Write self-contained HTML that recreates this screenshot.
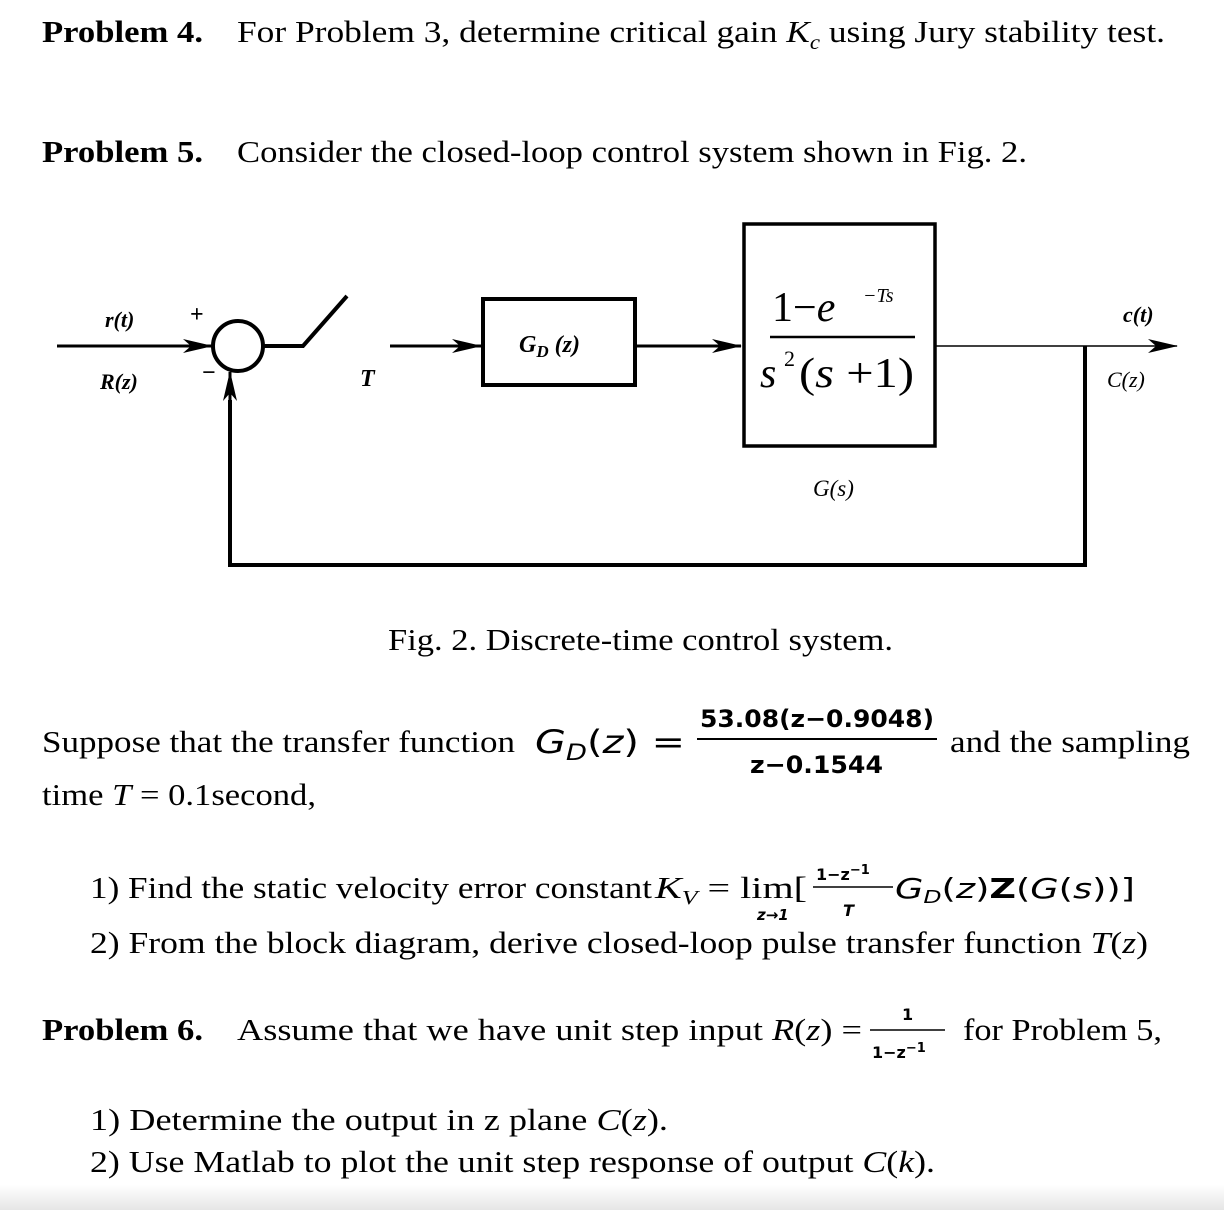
<!DOCTYPE html>
<html><head><meta charset="utf-8"><style>
body{margin:0;background:#fff;}
svg{display:block}
.s{font-family:"Liberation Serif",serif;}
.m{font-family:"DejaVu Sans","Liberation Sans",sans-serif;}
</style></head><body>
<svg width="1224" height="1210" viewBox="0 0 1224 1210" xmlns="http://www.w3.org/2000/svg">
<defs>
<marker id="a" markerWidth="30" markerHeight="14" refX="29" refY="7" orient="auto" markerUnits="userSpaceOnUse" viewBox="0 0 30 14"><path d="M0,0 L30,7 L0,14 L8,7z" fill="#000"/></marker>
<linearGradient id="g" x1="0" y1="0" x2="0" y2="1"><stop offset="0" stop-color="#fff"/><stop offset="1" stop-color="#e6e6e6"/></linearGradient>
</defs>
<rect x="0" y="1185" width="1224" height="25" fill="url(#g)"/>
<g class="s" font-size="31" fill="#000">
<text x="42" y="42" font-weight="bold" textLength="161" lengthAdjust="spacingAndGlyphs">Problem 4.</text>
<text x="237" y="42" textLength="928" lengthAdjust="spacingAndGlyphs">For Problem 3, determine critical gain <tspan font-style="italic">K</tspan><tspan font-style="italic" font-size="20" dy="7">c</tspan><tspan dy="-7"> using Jury stability test.</tspan></text>
<text x="42" y="162" font-weight="bold" textLength="161" lengthAdjust="spacingAndGlyphs">Problem 5.</text>
<text x="237" y="162" textLength="790" lengthAdjust="spacingAndGlyphs">Consider the closed-loop control system shown in Fig. 2.</text>
</g>
<g stroke="#000" fill="none">
<line x1="57" y1="346" x2="212" y2="346" stroke-width="3" marker-end="url(#a)"/>
<circle cx="238" cy="346" r="25" stroke-width="4"/>
<polyline points="263,346 303,346 347,296" stroke-width="4"/>
<line x1="390" y1="346" x2="481" y2="346" stroke-width="3" marker-end="url(#a)"/>
<rect x="483" y="299" width="152" height="86" stroke-width="4"/>
<line x1="636" y1="346" x2="741" y2="346" stroke-width="3" marker-end="url(#a)"/>
<rect x="744" y="224" width="191" height="222" stroke-width="3.5"/>
<line x1="936" y1="346" x2="1177" y2="346" stroke-width="1.5" marker-end="url(#a)"/>
<polyline points="1085,346 1085,565 230,565 230,400" stroke-width="4"/>
<line x1="230" y1="400" x2="230" y2="372" stroke-width="3" marker-end="url(#a)"/>
<line x1="770" y1="337" x2="915" y2="337" stroke-width="2.5"/>
</g>
<g class="s" fill="#000">
<text x="105" y="327" font-size="22" font-weight="bold" font-style="italic">r(t)</text>
<text x="100" y="389" font-size="22" font-weight="bold" font-style="italic">R(z)</text>
<text x="190" y="322" font-size="24" font-weight="bold">+</text>
<text x="202" y="380" font-size="24" font-weight="bold">−</text>
<text x="360" y="386" font-size="24" font-weight="bold" font-style="italic">T</text>
<text x="519" y="352" font-size="24" font-weight="bold" font-style="italic">G<tspan font-size="17" dy="5">D</tspan><tspan dy="-5"> (z)</tspan></text>
<text x="772" y="321" font-size="42">1−<tspan font-style="italic">e</tspan></text>
<text x="863" y="302" font-size="20" font-style="italic">−Ts</text>
<text x="760" y="387" font-size="42"><tspan font-style="italic">s</tspan></text>
<text x="784" y="366" font-size="22">2</text>
<text x="799" y="387" font-size="42" textLength="115" lengthAdjust="spacingAndGlyphs">(<tspan font-style="italic">s</tspan> +1)</text>
<text x="1123" y="322" font-size="22" font-weight="bold" font-style="italic">c(t)</text>
<text x="1107" y="387" font-size="22" font-style="italic">C(z)</text>
<text x="813" y="496" font-size="23" font-style="italic">G(s)</text>
<text x="388" y="650" font-size="31" textLength="505" lengthAdjust="spacingAndGlyphs">Fig. 2. Discrete-time control system.</text>
<text x="42" y="752" font-size="31" textLength="473" lengthAdjust="spacingAndGlyphs">Suppose that the transfer function</text>
<text x="950" y="752" font-size="31" textLength="240" lengthAdjust="spacingAndGlyphs">and the sampling</text>
<text x="42" y="805" font-size="31" textLength="274" lengthAdjust="spacingAndGlyphs">time <tspan font-style="italic">T</tspan> = 0.1second,</text>
<text x="90" y="898" font-size="31" textLength="562" lengthAdjust="spacingAndGlyphs">1)  Find the static velocity error constant</text>
<text x="655" y="898" font-size="31" textLength="152" lengthAdjust="spacingAndGlyphs"><tspan font-style="italic">K</tspan><tspan font-size="20" dy="6" font-style="italic">V</tspan><tspan dy="-6"> = lim[</tspan></text>
<text x="90" y="953" font-size="31" textLength="1058" lengthAdjust="spacingAndGlyphs">2)  From the block diagram, derive closed-loop pulse transfer function <tspan font-style="italic">T</tspan>(<tspan font-style="italic">z</tspan>)</text>
<text x="42" y="1040" font-size="31" font-weight="bold" textLength="161" lengthAdjust="spacingAndGlyphs">Problem 6.</text>
<text x="237" y="1040" font-size="31" textLength="625" lengthAdjust="spacingAndGlyphs">Assume that we have unit step input <tspan font-style="italic">R</tspan>(<tspan font-style="italic">z</tspan>) =</text>
<text x="963" y="1040" font-size="31" textLength="199" lengthAdjust="spacingAndGlyphs">for Problem 5,</text>
<text x="90" y="1130" font-size="31" textLength="578" lengthAdjust="spacingAndGlyphs">1)  Determine the output in z plane <tspan font-style="italic">C</tspan>(<tspan font-style="italic">z</tspan>).</text>
<text x="90" y="1172" font-size="31" textLength="845" lengthAdjust="spacingAndGlyphs">2)  Use Matlab to plot the unit step response of output <tspan font-style="italic">C</tspan>(<tspan font-style="italic">k</tspan>).</text>
</g>
<g class="m" fill="#000">
<text x="535" y="753" font-size="32" font-style="italic" textLength="150" lengthAdjust="spacingAndGlyphs">G<tspan font-size="22" dy="7">D</tspan><tspan dy="-7" font-style="normal">(</tspan>z<tspan font-style="normal">) =</tspan></text>
<text x="700" y="727" font-size="24" font-weight="bold" textLength="234" lengthAdjust="spacingAndGlyphs">53.08(z−0.9048)</text>
<line x1="697" y1="739" x2="937" y2="739" stroke="#000" stroke-width="2"/>
<text x="750" y="773" font-size="24" font-weight="bold" textLength="133" lengthAdjust="spacingAndGlyphs">z−0.1544</text>
<text x="816" y="880" font-size="16" font-weight="bold">1−z<tspan dy="-6" font-size="13">−1</tspan></text>
<line x1="813" y1="887" x2="893" y2="887" stroke="#000" stroke-width="1.5"/>
<text x="843" y="916" font-size="16" font-style="italic" font-weight="bold">T</text>
<text x="757" y="920" font-size="15" font-style="italic" font-weight="bold">z→1</text>
<text x="895" y="898" font-size="28" font-style="italic" textLength="240" lengthAdjust="spacingAndGlyphs">G<tspan font-size="18" dy="5">D</tspan><tspan dy="-5" font-style="normal">(</tspan>z<tspan font-style="normal">)</tspan><tspan font-weight="bold" font-style="normal">Z</tspan><tspan font-style="normal">(</tspan>G<tspan font-style="normal">(</tspan>s<tspan font-style="normal">))]</tspan></text>
<text x="902" y="1020" font-size="16" font-weight="bold">1</text>
<line x1="870" y1="1030" x2="945" y2="1030" stroke="#000" stroke-width="1.5"/>
<text x="872" y="1058" font-size="16" font-weight="bold">1−z<tspan dy="-6" font-size="13">−1</tspan></text>
</g>
</svg>
</body></html>
